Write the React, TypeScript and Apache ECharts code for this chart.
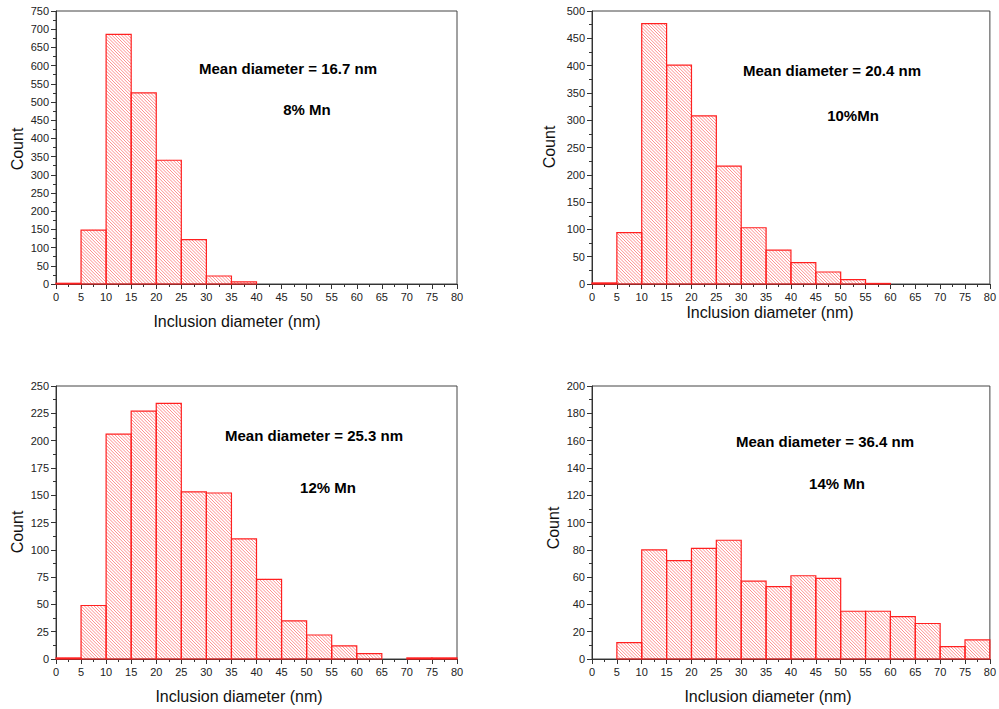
import React, { useEffect, useRef } from "react";
import * as echarts from "echarts";

// Bin starts (nm), each bin is 5 nm wide
const binStarts = [0, 5, 10, 15, 20, 25, 30, 35, 40, 45, 50, 55, 60, 65, 70, 75];
const binWidth = 5;

const countMn8 = [2, 148, 686, 525, 340, 122, 22, 6, 0, 0, 0, 0, 0, 0, 0, 0];
const countMn10 = [2, 94, 477, 401, 308, 216, 103, 62, 39, 22, 8, 1, 0, 0, 0, 0];
const countMn12 = [1, 49, 206, 227, 234, 153, 152, 110, 73, 35, 22, 12, 5, 0, 1, 1];
const countMn14 = [0, 12, 80, 72, 81, 87, 57, 53, 61, 59, 35, 35, 31, 26, 9, 14];

const yMaxes = [750, 500, 250, 200];
const yIntervals = [50, 50, 25, 20];
const meanLabels = [
  "Mean diameter = 16.7 nm",
  "Mean diameter = 20.4 nm",
  "Mean diameter = 25.3 nm",
  "Mean diameter = 36.4 nm",
];
const mnLabels = ["8% Mn", "10%Mn", "12% Mn", "14% Mn"];
const xTitle = "Inclusion diameter (nm)";
const yTitle = "Count";

const FONT = "'Liberation Sans', Arial, sans-serif";

export default function App() {
  const ref = useRef<HTMLDivElement>(null);

  useEffect(() => {
    if (!ref.current) return;
    const chart = echarts.init(ref.current, null, { renderer: "svg" });

    const allCounts = [countMn8, countMn10, countMn12, countMn14];
    const grids = [
      { left: 56, top: 11, width: 401, height: 273 },
      { left: 592, top: 11, width: 400, height: 273 },
      { left: 56, top: 386, width: 401, height: 273 },
      { left: 592, top: 386, width: 400, height: 273 },
    ];

    const hatch = 3.2;
    const renderItem = (params: any, api: any) => {
      const x0 = api.value(0);
      const x1 = api.value(1);
      const v = api.value(2);
      const p0 = api.coord([x0, v]);
      const p1 = api.coord([x1, 0]);
      const L = p0[0], T = p0[1], R = p1[0], B = p1[1];
      const children: any[] = [];
      const kMin = Math.ceil((T - R) / hatch);
      const kMax = Math.floor((B - L) / hatch);
      for (let k = kMin; k <= kMax; k++) {
        const c = k * hatch;
        const xs = Math.max(L, T - c);
        const xe = Math.min(R, B - c);
        if (xe > xs) {
          children.push({
            type: "line",
            shape: { x1: xs, y1: xs + c, x2: xe, y2: xe + c },
            style: { stroke: "rgba(255,40,40,0.75)", lineWidth: 0.7 },
            silent: true,
          });
        }
      }
      children.push({
        type: "rect",
        shape: { x: L, y: T, width: R - L, height: B - T },
        style: { fill: "none", stroke: "#ff2020", lineWidth: 1.2 },
      });
      return { type: "group", children };
    };

    const option: any = {
      animation: false,
      backgroundColor: "#ffffff",
      grid: grids.map((g) => ({
        ...g,
        show: true,
        borderColor: "#444",
        borderWidth: 1,
        backgroundColor: "transparent",
      })),
      xAxis: grids.map((_, i) => ({
        type: "value",
        gridIndex: i,
        min: 0,
        max: 80,
        interval: 5,
        axisLine: { show: true, onZero: false, lineStyle: { color: "#333", width: 1 } },
        axisTick: { show: true, inside: false, length: 5, lineStyle: { color: "#333" } },
        minorTick: { show: true, splitNumber: 2, length: 3, lineStyle: { color: "#333" } },
        splitLine: { show: false },
        axisLabel: { color: "#222", fontSize: 11, fontFamily: FONT, margin: 7 },
      })),
      yAxis: grids.map((_, i) => ({
        type: "value",
        gridIndex: i,
        min: 0,
        max: yMaxes[i],
        interval: yIntervals[i],
        axisLine: { show: true, lineStyle: { color: "#333", width: 1 } },
        axisTick: { show: true, inside: false, length: 5, lineStyle: { color: "#333" } },
        minorTick: { show: true, splitNumber: 2, length: 3, lineStyle: { color: "#333" } },
        splitLine: { show: false },
        axisLabel: { color: "#222", fontSize: 11, fontFamily: FONT, margin: 7 },
      })),
      series: allCounts.map((counts, i) => ({
        type: "custom",
        xAxisIndex: i,
        yAxisIndex: i,
        renderItem,
        encode: { x: [0, 1], y: 2 },
        data: binStarts
          .map((s, j) => [s, s + binWidth, counts[j]])
          .filter((d) => d[2] > 0),
      })),
      graphic: [
        ...[
          [288, 68, 307, 109],
          [832, 70, 853, 115],
          [314, 435, 328, 487],
          [825, 441, 837, 483],
        ].flatMap((p, i) => [
          {
            type: "text",
            x: p[0],
            y: p[1],
            style: {
              text: meanLabels[i],
              font: `bold 15px ${FONT}`,
              fill: "#000",
              textAlign: "center",
              textVerticalAlign: "middle",
              verticalAlign: "middle",
            },
          },
          {
            type: "text",
            x: p[2],
            y: p[3],
            style: {
              text: mnLabels[i],
              font: `bold 15px ${FONT}`,
              fill: "#000",
              textAlign: "center",
              textVerticalAlign: "middle",
              verticalAlign: "middle",
            },
          },
        ]),
        ...[
          [237, 321],
          [770, 312],
          [239, 696],
          [768, 696],
        ].map((p) => ({
          type: "text",
          x: p[0],
          y: p[1],
          style: {
            text: xTitle,
            font: `16px ${FONT}`,
            fill: "#111",
            textAlign: "center",
            textVerticalAlign: "middle",
            verticalAlign: "middle",
          },
        })),
        ...[
          [17, 149],
          [549, 147],
          [17, 532],
          [553, 528],
        ].map((p) => ({
          type: "text",
          x: p[0],
          y: p[1],
          rotation: Math.PI / 2,
          style: {
            text: yTitle,
            font: `16px ${FONT}`,
            fill: "#111",
            textAlign: "center",
            textVerticalAlign: "middle",
            verticalAlign: "middle",
          },
        })),
      ],
    };

    chart.setOption(option);
    return () => chart.dispose();
  }, []);

  return (
    <div
      ref={ref}
      style={{ position: "fixed", left: 0, top: 0, width: 999, height: 709, background: "#fff" }}
    />
  );
}
